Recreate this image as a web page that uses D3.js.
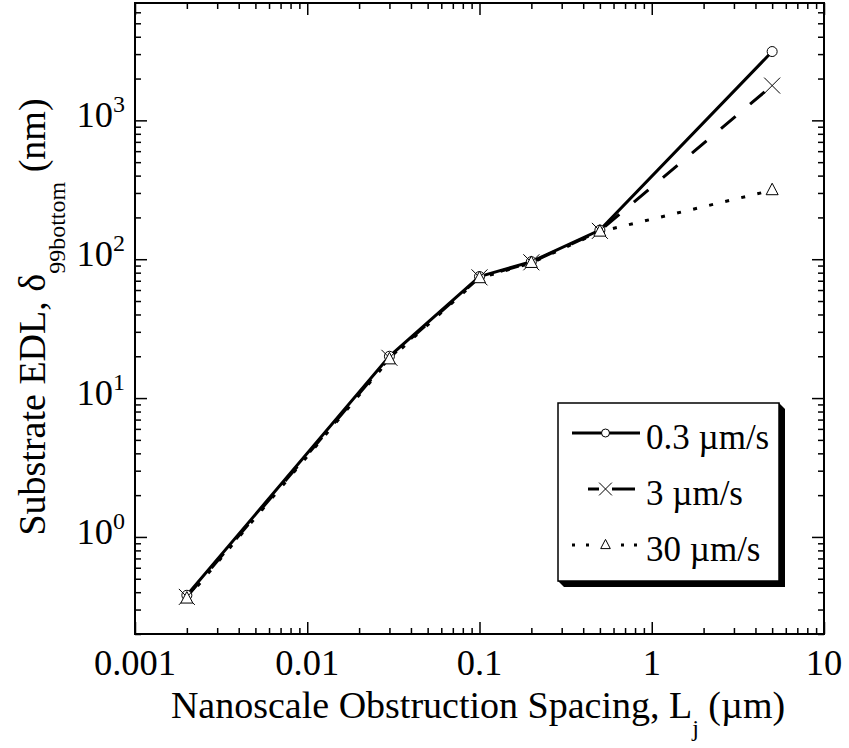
<!DOCTYPE html>
<html>
<head>
<meta charset="utf-8">
<script src="https://cdn.jsdelivr.net/npm/d3@7"></script>
<style>
  body { margin: 0; background: #fff; }
  svg { display: block; }
  .axis .domain { display: none; }
  .axis line { stroke: #000; stroke-width: 1.5; }
</style>
</head>
<body>
<div id="chart"></div>
<script>
// values
const spacing = [0.002, 0.03, 0.1, 0.2, 0.5, 5]
const edl03 = [0.38, 20, 75, 96, 162, 3130]
const edl3 = [0.37, 19.5, 74, 95, 160, 1780]
const edl30 = [0.36, 19, 73, 94, 158, 314]

const seriesNames = ['0.3 µm/s', '3 µm/s', '30 µm/s']
const xTickValues = [0.001, 0.01, 0.1, 1, 10]
const xTickLabels = ['0.001', '0.01', '0.1', '1', '10']
const yTickValues = [1, 10, 100, 1000]
const yTickExponents = ['0', '1', '2', '3']

const width = 849
const height = 748
const frame = { left: 135, right: 824, top: 3, bottom: 634 }
const font = '"Liberation Serif", "Times New Roman", serif'

const x = d3.scaleLog()
  .domain([0.001, 10])
  .range([frame.left, frame.right])

const y = d3.scaleLog()
  .domain([0.2, 7000])
  .range([frame.bottom, frame.top])

const svg = d3.select('#chart').append('svg')
  .attr('width', width)
  .attr('height', height)
  .style('font-family', font)

// minor ticks: 2..9 inside each decade
function minorTicks (domain) {
  const out = []
  for (let e = -4; e <= 4; e++) {
    for (let k = 2; k <= 9; k++) {
      const v = k * Math.pow(10, e)
      if (v > domain[0] * 0.999 && v < domain[1] * 0.999) out.push(v)
    }
  }
  return out
}
const xMinor = minorTicks(x.domain())
const yMinor = minorTicks(y.domain())

const major = 12
const minor = 6

function addAxis (axisFn, scale, values, size, transform) {
  svg.append('g')
    .attr('class', 'axis')
    .attr('transform', transform)
    .call(axisFn(scale).tickValues(values).tickSizeInner(-size).tickSizeOuter(0).tickFormat(''))
}

addAxis(d3.axisBottom, x, xMinor, minor, `translate(0,${frame.bottom})`)
addAxis(d3.axisBottom, x, xTickValues, major, `translate(0,${frame.bottom})`)
addAxis(d3.axisTop, x, xMinor, minor, `translate(0,${frame.top})`)
addAxis(d3.axisTop, x, xTickValues, major, `translate(0,${frame.top})`)
addAxis(d3.axisLeft, y, yMinor, minor, `translate(${frame.left},0)`)
addAxis(d3.axisLeft, y, yTickValues, major, `translate(${frame.left},0)`)
addAxis(d3.axisRight, y, yMinor, minor, `translate(${frame.right},0)`)
addAxis(d3.axisRight, y, yTickValues, major, `translate(${frame.right},0)`)

svg.append('rect')
  .attr('x', frame.left)
  .attr('y', frame.top)
  .attr('width', frame.right - frame.left)
  .attr('height', frame.bottom - frame.top)
  .attr('fill', 'none')
  .attr('stroke', '#000')
  .attr('stroke-width', 2)

// tick labels
svg.append('g').selectAll('text')
  .data(xTickValues).enter()
  .append('text')
  .attr('x', d => x(d))
  .attr('y', 675)
  .attr('text-anchor', 'middle')
  .attr('font-size', 36.5)
  .text((d, i) => xTickLabels[i])

const yLabels = svg.append('g').selectAll('text')
  .data(yTickValues).enter()
  .append('text')
  .attr('x', 125)
  .attr('y', d => y(d) + 7)
  .attr('text-anchor', 'end')
  .attr('font-size', 36.5)
yLabels.append('tspan').text('10')
yLabels.append('tspan')
  .attr('font-size', 24)
  .attr('dy', -15)
  .text((d, i) => yTickExponents[i])

// axis titles
const xTitle = svg.append('text')
  .attr('x', 478)
  .attr('y', 718)
  .attr('text-anchor', 'middle')
  .attr('font-size', 38)
xTitle.append('tspan').text('Nanoscale Obstruction Spacing, L')
xTitle.append('tspan').attr('font-size', 24).attr('dy', 18).text('j')
xTitle.append('tspan').attr('dy', -18).text(' (µm)')

const yTitle = svg.append('text')
  .attr('transform', 'translate(45,317) rotate(-90)')
  .attr('text-anchor', 'middle')
  .attr('font-size', 38)
yTitle.append('tspan').text('Substrate EDL, δ')
yTitle.append('tspan').attr('font-size', 24).attr('dy', 20).text('99bottom')
yTitle.append('tspan').attr('dy', -20).text(' (nm)')

// series
const series = [
  { name: seriesNames[0], values: edl03, dash: null, marker: 'circle' },
  { name: seriesNames[1], values: edl3, dash: '19,19', marker: 'cross' },
  { name: seriesNames[2], values: edl30, dash: '4,12.5', marker: 'triangle' }
]

const line = d3.line()
  .x(d => x(d[0]))
  .y(d => y(d[1]))

series.forEach(s => {
  svg.append('path')
    .datum(spacing.map((v, i) => [v, s.values[i]]))
    .attr('d', line)
    .attr('fill', 'none')
    .attr('stroke', '#000')
    .attr('stroke-width', 3)
    .attr('stroke-dasharray', s.dash)
})

function drawMarker (g, type, scale) {
  if (type === 'circle') {
    g.append('circle').attr('r', 5 * scale)
      .attr('fill', '#fff').attr('stroke', '#000').attr('stroke-width', 1)
  } else if (type === 'cross') {
    const h = 8 * scale
    g.append('path').attr('d', `M${-h},${-h}L${h},${h}M${-h},${h}L${h},${-h}`)
      .attr('fill', 'none').attr('stroke', '#000').attr('stroke-width', 1)
  } else {
    const t = 6 * scale
    g.append('path').attr('d', `M0,${-7 * scale}L${t},${4.5 * scale}L${-t},${4.5 * scale}Z`)
      .attr('fill', '#fff').attr('stroke', '#000').attr('stroke-width', 1)
  }
}

series.forEach(s => {
  svg.append('g').selectAll('g')
    .data(spacing.map((v, i) => [v, s.values[i]])).enter()
    .append('g')
    .attr('transform', d => `translate(${x(d[0])},${y(d[1])})`)
    .each(function () { drawMarker(d3.select(this), s.marker, 1) })
})

// legend box with a bevelled drop shadow
const box = { x: 558, y: 403, w: 221, h: 178, off: 6 }
const legend = svg.append('g')
legend.append('path')
  .attr('d', `M${box.x},${box.y + box.h}L${box.x + box.off},${box.y + box.h + box.off}` +
    `L${box.x + box.w + box.off},${box.y + box.h + box.off}L${box.x + box.w + box.off},${box.y + box.off}` +
    `L${box.x + box.w},${box.y}Z`)
  .attr('fill', '#000')
legend.append('rect')
  .attr('x', box.x).attr('y', box.y).attr('width', box.w).attr('height', box.h)
  .attr('fill', '#fff').attr('stroke', '#000').attr('stroke-width', 1.5)

const rowY = [433, 489, 545]
const legendLines = [
  [[572, 640]],
  [[588, 599], [612, 635]],
  [[572, 575], [586, 589], [621, 624], [634, 637]]
]
series.forEach((s, i) => {
  legendLines[i].forEach(seg => {
    legend.append('line')
      .attr('x1', seg[0]).attr('x2', seg[1])
      .attr('y1', rowY[i]).attr('y2', rowY[i])
      .attr('stroke', '#000').attr('stroke-width', 3)
  })
  drawMarker(legend.append('g').attr('transform', `translate(605.5,${rowY[i]})`), s.marker, 0.8)
  legend.append('text')
    .attr('x', 646)
    .attr('y', rowY[i] + 16)
    .attr('font-size', 35)
    .text(s.name)
})
</script>
</body>
</html>
